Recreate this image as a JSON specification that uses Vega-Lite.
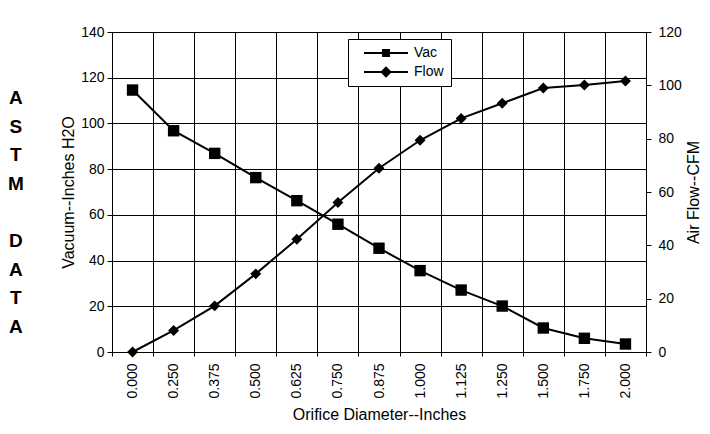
{
  "$schema": "https://vega.github.io/schema/vega-lite/v6.json",
  "autosize": {"type": "none"},
  "padding": {"left": 112, "top": 32, "right": 64, "bottom": 82},
  "width": 534,
  "height": 320,
  "background": "white",
  "title": {
    "text": ["A", "S", "T", "M", "\u200b", "D", "A", "T", "A"],
    "orient": "left",
    "angle": 0,
    "anchor": "middle",
    "align": "center",
    "baseline": "middle",
    "font": "Liberation Sans",
    "fontSize": 19,
    "fontWeight": "bold",
    "color": "black",
    "lineHeight": 28.6,
    "offset": 29,
    "dy": -94
  },
  "config": {
    "font": "Liberation Sans",
    "view": {"stroke": "black", "strokeWidth": 1},
    "axis": {
      "labelFont": "Liberation Sans",
      "titleFont": "Liberation Sans",
      "labelFontSize": 14,
      "titleFontSize": 16,
      "titleFontWeight": "normal",
      "labelColor": "black",
      "titleColor": "black",
      "domainColor": "black",
      "tickColor": "black",
      "gridColor": "black",
      "gridOpacity": 1,
      "domainWidth": 1,
      "tickWidth": 1
    }
  },
  "data": {
    "values": [
      {"d": "0.000", "vac": 114.6, "flow": 0},
      {"d": "0.250", "vac": 96.8, "flow": 8.1},
      {"d": "0.375", "vac": 86.9, "flow": 17.3},
      {"d": "0.500", "vac": 76.3, "flow": 29.3},
      {"d": "0.625", "vac": 66.2, "flow": 42.3},
      {"d": "0.750", "vac": 55.9, "flow": 56.1},
      {"d": "0.875", "vac": 45.4, "flow": 68.9},
      {"d": "1.000", "vac": 35.6, "flow": 79.4},
      {"d": "1.125", "vac": 27.1, "flow": 87.6},
      {"d": "1.250", "vac": 20.1, "flow": 93.3},
      {"d": "1.500", "vac": 10.5, "flow": 99.0},
      {"d": "1.750", "vac": 6.0, "flow": 100.1},
      {"d": "2.000", "vac": 3.5, "flow": 101.6}
    ]
  },
  "encoding": {
    "x": {
      "field": "d",
      "type": "ordinal",
      "sort": null,
      "scale": {"type": "band", "paddingInner": 0, "paddingOuter": 0},
      "axis": {
        "title": "Orifice Diameter--Inches",
        "labelAngle": 270,
        "labelAlign": "right",
        "labelBaseline": "middle",
        "tickBand": "extent",
        "grid": true,
        "tickSize": 4,
        "labelPadding": 7,
        "titlePadding": 8
      }
    }
  },
  "layer": [
    {
      "encoding": {
        "y": {
          "field": "vac",
          "type": "quantitative",
          "scale": {"domain": [0, 140], "nice": false},
          "axis": {
            "title": "Vacuum--Inches H2O",
            "orient": "left",
            "values": [0, 20, 40, 60, 80, 100, 120, 140],
            "grid": true,
            "tickSize": 5,
            "labelPadding": 3,
            "titlePadding": 4
          }
        }
      },
      "layer": [
        {"mark": {"type": "line", "color": "black", "strokeWidth": 2}},
        {
          "mark": {"type": "point", "filled": true, "color": "black", "size": 130, "opacity": 1, "shape": "square"}
        },
        {
          "mark": {"type": "point", "filled": true, "color": "black", "opacity": 0},
          "encoding": {
            "shape": {
              "datum": "Vac",
              "scale": {
                "domain": ["Vac", "Flow"],
                "range": [
                  "M-5.5,-0.25H5.5V0.25H-5.5Z M-1,-1H1V1H-1Z",
                  "M-5.5,-0.25H5.5V0.25H-5.5Z M-1.45,0L0,-1.45L1.45,0L0,1.45Z"
                ]
              },
              "legend": {
                "title": null,
                "orient": "none",
                "legendX": 236,
                "legendY": 7,
                "strokeColor": "black",
                "fillColor": "white",
                "padding": 7,
                "labelFont": "Liberation Sans",
                "labelFontSize": 14,
                "labelColor": "black",
                "symbolOffset": 24,
                "labelOffset": 21,
                "rowPadding": 5,
                "symbolSize": 64,
                "symbolFillColor": "black",
                "symbolStrokeColor": "black",
                "symbolStrokeWidth": 0,
                "symbolOpacity": 1
              }
            }
          }
        }
      ]
    },
    {
      "encoding": {
        "y": {
          "field": "flow",
          "type": "quantitative",
          "scale": {"domain": [0, 120], "nice": false},
          "axis": {
            "title": "Air Flow--CFM",
            "orient": "right",
            "titleAngle": 270,
            "values": [0, 20, 40, 60, 80, 100, 120],
            "grid": false,
            "tickSize": 5,
            "labelPadding": 7,
            "titlePadding": 20
          }
        }
      },
      "layer": [
        {"mark": {"type": "line", "color": "black", "strokeWidth": 2}},
        {
          "mark": {"type": "point", "filled": true, "color": "black", "size": 120, "opacity": 1, "shape": "diamond"}
        },
        {
          "mark": {"type": "point", "filled": true, "color": "black", "opacity": 0},
          "encoding": {"shape": {"datum": "Flow"}}
        }
      ]
    }
  ],
  "resolve": {"scale": {"y": "independent"}}
}
